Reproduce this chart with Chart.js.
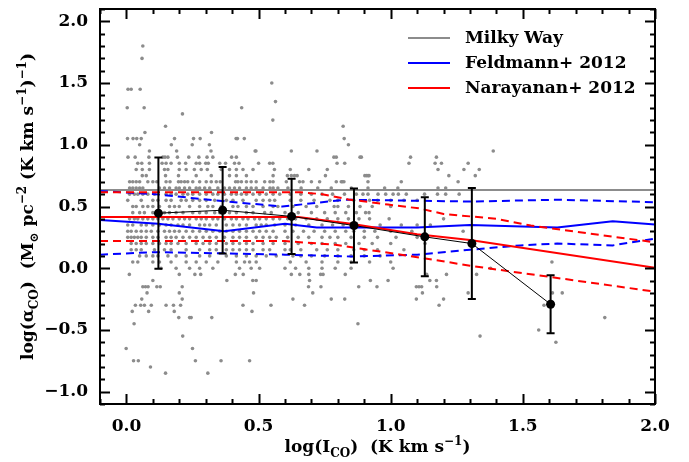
<!DOCTYPE html>
<html>
<head>
<meta charset="utf-8">
<script src="https://cdn.jsdelivr.net/npm/chart.js@4.4.1/dist/chart.umd.min.js"></script>
<style>
  html, body { margin: 0; padding: 0; background: #fff; }
  #wrap { width: 689px; height: 462px; position: relative; }
</style>
</head>
<body>
<div id="wrap"><canvas id="c"></canvas></div>
<script>
const FONT = '"DejaVu Serif", serif';

// axis ranges and labelled ticks
const xRange = [-0.1, 2.0];
const yRange = [-1.1, 2.1];
const xTickValues = [0.0, 0.5, 1.0, 1.5, 2.0];
const yTickValues = [-1.0, -0.5, 0.0, 0.5, 1.0, 1.5, 2.0];

// individual measurements: [log(alpha_CO), [log(I_CO) ...]]
const galaxyRows = [
  [1.80, [0.062]],
  [1.70, [0.059]],
  [1.50, [0.55]],
  [1.45, [0.006, 0.018, 0.052]],
  [1.35, [0.564]],
  [1.30, [0.003, 0.067, 0.436]],
  [1.25, [0.212]],
  [1.20, [0.554]],
  [1.15, [0.148, 0.82]],
  [1.10, [0.070, 0.322]],
  [1.05, [0.004, 0.025, 0.039, 0.056, 0.182, 0.254, 0.279, 0.415, 0.42, 0.446, 0.824]],
  [1.00, [0.05, 0.17, 0.249, 0.314, 0.84]],
  [0.95, [0.087, 0.19, 0.32, 0.487, 0.49, 0.624, 0.721, 1.388]],
  [0.90, [0.006, 0.033, 0.085, 0.138, 0.146, 0.157, 0.193, 0.236, 0.274, 0.305, 0.327, 0.398, 0.416, 0.785, 0.794, 0.884, 0.889, 1.075, 1.173]],
  [0.85, [0.043, 0.058, 0.087, 0.135, 0.15, 0.169, 0.2, 0.224, 0.264, 0.277, 0.3, 0.31, 0.353, 0.375, 0.409, 0.426, 0.5, 0.542, 0.554, 0.797, 0.826, 1.069, 1.168, 1.192, 1.293]],
  [0.80, [0.037, 0.06, 0.087, 0.144, 0.157, 0.2, 0.226, 0.257, 0.283, 0.306, 0.359, 0.39, 0.416, 0.441, 0.479, 0.56, 0.62, 0.69, 0.76, 1.179, 1.277, 1.335]],
  [0.75, [0.06, 0.075, 0.148, 0.197, 0.264, 0.321, 0.39, 0.416, 0.454, 0.555, 0.609, 0.624, 0.636, 0.646, 0.753, 0.902, 0.908, 0.914, 0.918, 1.22, 1.32]],
  [0.70, [0.012, 0.024, 0.037, 0.05, 0.081, 0.1, 0.115, 0.15, 0.165, 0.197, 0.207, 0.22, 0.232, 0.251, 0.277, 0.302, 0.321, 0.34, 0.355, 0.413, 0.422, 0.435, 0.454, 0.472, 0.491, 0.523, 0.543, 0.555, 0.605, 0.655, 0.668, 0.70, 0.731, 0.794, 0.813, 0.817, 0.823, 0.914, 1.04, 1.255]],
  [0.65, [0.012, 0.024, 0.037, 0.05, 0.062, 0.125, 0.144, 0.163, 0.188, 0.2, 0.22, 0.239, 0.264, 0.277, 0.296, 0.315, 0.346, 0.371, 0.39, 0.409, 0.428, 0.454, 0.472, 0.491, 0.517, 0.543, 0.555, 0.573, 0.611, 0.661, 0.724, 0.775, 0.851, 0.914, 0.977, 1.027, 1.179, 1.208]],
  [0.60, [0.012, 0.03, 0.043, 0.062, 0.081, 0.106, 0.15, 0.169, 0.188, 0.214, 0.232, 0.251, 0.277, 0.302, 0.327, 0.346, 0.371, 0.397, 0.416, 0.435, 0.454, 0.479, 0.504, 0.529, 0.555, 0.58, 0.62, 0.66, 0.7, 0.74, 0.78, 0.825, 0.87, 0.895, 0.914, 0.952, 0.981, 1.009, 1.029, 1.059, 1.128, 1.177, 1.208, 1.259]],
  [0.55, [0.005, 0.056, 0.1, 0.119, 0.15, 0.169, 0.207, 0.226, 0.251, 0.277, 0.302, 0.334, 0.378, 0.403, 0.441, 0.491, 0.517, 0.542, 0.561, 0.62, 0.66, 0.71, 0.77, 0.80, 0.86, 0.92, 0.95, 1.0, 1.05, 1.1]],
  [0.50, [0.024, 0.037, 0.062, 0.081, 0.1, 0.125, 0.163, 0.182, 0.2, 0.239, 0.277, 0.308, 0.327, 0.359, 0.403, 0.422, 0.454, 0.479, 0.517, 0.555, 0.573, 0.63, 0.68, 0.72, 0.786, 0.80, 0.84, 0.884, 0.93, 1.0]],
  [0.45, [0.024, 0.05, 0.068, 0.1, 0.144, 0.163, 0.188, 0.214, 0.251, 0.277, 0.302, 0.334, 0.353, 0.39, 0.416, 0.454, 0.479, 0.523, 0.548, 0.6, 0.65, 0.7, 0.75, 0.79, 0.83, 0.87, 0.905, 0.918]],
  [0.40, [0.012, 0.03, 0.043, 0.062, 0.081, 0.1, 0.119, 0.138, 0.157, 0.176, 0.2, 0.22, 0.239, 0.264, 0.283, 0.302, 0.327, 0.346, 0.371, 0.397, 0.416, 0.441, 0.46, 0.485, 0.504, 0.529, 0.555, 0.58, 0.61, 0.64, 0.68, 0.72, 0.76, 0.8, 0.84, 0.88, 0.92, 0.994, 1.20]],
  [0.35, [0.005, 0.024, 0.056, 0.075, 0.1, 0.125, 0.15, 0.169, 0.195, 0.214, 0.239, 0.277, 0.296, 0.315, 0.34, 0.378, 0.403, 0.428, 0.454, 0.491, 0.51, 0.529, 0.561, 0.6, 0.64, 0.69, 0.74, 0.78, 0.82, 0.87, 0.96, 1.04, 1.1, 1.15]],
  [0.30, [0.005, 0.018, 0.037, 0.056, 0.075, 0.094, 0.119, 0.144, 0.163, 0.182, 0.2, 0.226, 0.251, 0.277, 0.302, 0.327, 0.353, 0.378, 0.403, 0.428, 0.454, 0.479, 0.504, 0.529, 0.555, 0.6, 0.63, 0.67, 0.71, 0.75, 0.79, 0.83, 0.86, 0.9, 0.94, 1.0, 1.08, 1.274]],
  [0.25, [0.005, 0.018, 0.03, 0.043, 0.056, 0.075, 0.1, 0.119, 0.15, 0.169, 0.188, 0.214, 0.239, 0.264, 0.29, 0.315, 0.34, 0.371, 0.403, 0.428, 0.454, 0.491, 0.517, 0.542, 0.567, 0.61, 0.65, 0.69, 0.74, 0.77, 0.8, 0.85, 0.9, 0.95, 1.02, 1.1]],
  [0.20, [0.018, 0.037, 0.056, 0.075, 0.1, 0.125, 0.15, 0.169, 0.195, 0.226, 0.264, 0.29, 0.315, 0.34, 0.378, 0.403, 0.428, 0.454, 0.479, 0.517, 0.555, 0.6, 0.65, 0.7, 0.74, 0.79, 0.83, 0.88, 0.93, 1.0, 1.13]],
  [0.15, [0.018, 0.037, 0.056, 0.106, 0.144, 0.169, 0.226, 0.277, 0.315, 0.34, 0.378, 0.403, 0.428, 0.454, 0.479, 0.517, 0.542, 0.6, 0.62, 0.66, 0.72, 0.76, 0.8, 0.86, 0.9, 0.95, 1.05]],
  [0.10, [0.05, 0.075, 0.1, 0.119, 0.157, 0.188, 0.226, 0.277, 0.315, 0.378, 0.416, 0.454, 0.491, 0.529, 0.567, 0.63, 0.66, 0.7, 0.75, 0.8, 0.85, 0.9, 0.96]],
  [0.05, [0.024, 0.043, 0.1, 0.125, 0.169, 0.226, 0.264, 0.302, 0.346, 0.416, 0.447, 0.466, 0.491, 0.62, 0.68, 0.74, 0.8, 0.85, 0.92, 1.0, 1.61]],
  [0.00, [0.131, 0.188, 0.239, 0.277, 0.327, 0.428, 0.472, 0.504, 0.6, 0.64, 0.69, 0.74, 0.79, 0.85, 1.009, 1.378]],
  [-0.05, [0.011, 0.2, 0.259, 0.281, 0.412, 0.442, 0.624, 0.656, 0.69, 0.735, 0.744, 0.828, 1.136, 1.211, 1.325]],
  [-0.10, [0.10, 0.38, 0.478, 0.491, 0.693, 0.923, 0.99, 1.148, 1.173]],
  [-0.15, [0.062, 0.072, 0.082, 0.115, 0.128, 0.211, 0.689, 0.736, 0.879, 0.948, 1.097, 1.107, 1.117, 1.174]],
  [-0.20, [0.078, 0.2, 0.481, 0.705, 1.12, 1.293, 1.612, 1.649]],
  [-0.25, [0.058, 0.211, 0.63, 0.775, 0.826, 1.097, 1.2]],
  [-0.30, [0.034, 0.054, 0.068, 0.094, 0.15, 0.178, 0.205, 0.441, 0.547, 0.674, 1.183, 1.58]],
  [-0.35, [0.022, 0.084, 0.181, 0.475]],
  [-0.40, [0.198, 0.239, 0.245, 0.323, 1.81]],
  [-0.45, [0.029, 0.876]],
  [-0.50, [1.56]],
  [-0.55, [0.213, 1.338]],
  [-0.60, [1.625]],
  [-0.65, [-0.001, 0.25]],
  [-0.75, [0.027, 0.045, 0.261, 0.358, 0.466]],
  [-0.80, [0.091]],
  [-0.85, [0.148, 0.308]]
];

// Galactic conversion factor
const milkyWayX = [-0.1, 2.0];
const milkyWayY = [0.633, 0.633];

// Feldmann+ 2012 model: median and spread
const feldmannX   = [-0.1, 0.12, 0.37, 0.6, 0.72, 1.1, 1.3, 1.63, 1.84, 2.0];
const feldmannY   = [0.39, 0.36, 0.30, 0.36, 0.33, 0.33, 0.35, 0.33, 0.38, 0.355];
const feldmannHiX = [-0.1, 0.11, 0.33, 0.59, 0.83, 1.0, 1.3, 1.63, 2.0];
const feldmannHiY = [0.625, 0.60, 0.55, 0.50, 0.555, 0.55, 0.54, 0.555, 0.535];
const feldmannLoX = [-0.1, 0.1, 0.38, 0.6, 0.85, 1.1, 1.3, 1.49, 1.63, 1.84, 2.0];
const feldmannLoY = [0.11, 0.13, 0.12, 0.11, 0.095, 0.11, 0.15, 0.185, 0.2, 0.185, 0.24];

// Narayanan+ 2012 model: median and spread
const narayananX   = [-0.1, 0.65, 0.85, 1.1, 1.3, 2.0];
const narayananY   = [0.415, 0.415, 0.36, 0.275, 0.228, 0.004];
const narayananHiX = [-0.1, 0.66, 0.74, 0.84, 0.99, 1.11, 1.2, 1.3, 1.4, 1.53, 1.85, 2.0];
const narayananHiY = [0.615, 0.615, 0.60, 0.557, 0.516, 0.484, 0.44, 0.42, 0.40, 0.346, 0.253, 0.21];
const narayananLoX = [-0.1, 0.6, 0.79, 0.89, 1.06, 1.21, 1.3, 2.0];
const narayananLoY = [0.22, 0.22, 0.19, 0.157, 0.103, 0.052, 0.02, -0.19];

// binned means with scatter
const binX   = [0.121, 0.364, 0.625, 0.861, 1.129, 1.307, 1.605];
const binY   = [0.446, 0.47, 0.42, 0.346, 0.254, 0.20, -0.292];
const binErr = [0.45, 0.35, 0.305, 0.30, 0.32, 0.45, 0.235];

const legendLabels = ['Milky Way', 'Feldmann+ 2012', 'Narayanan+ 2012'];
const legendColors = ['#8c8c8c', '#0000ff', '#ff0000'];

const pts = (xs, ys) => xs.map((x, i) => ({ x: x, y: ys[i] }));
const galaxyPoints = [];
galaxyRows.forEach(([y, xs]) => xs.forEach(x => galaxyPoints.push({ x: x, y: y })));

function line(xs, ys, color, dashed, order) {
  return {
    data: pts(xs, ys), showLine: true, pointRadius: 0, borderColor: color,
    borderWidth: 2, borderDash: dashed ? [8, 5] : [], fill: false, tension: 0, order: order
  };
}

const fmt = v => (v < 0 ? '\u2212' : '') + Math.abs(v).toFixed(1);

function richText(ctx, parts, x, y) {
  const big = 'bold 17px ' + FONT, small = 'bold 12px ' + FONT;
  let total = 0;
  const widths = parts.map(([t, k]) => { ctx.font = k ? small : big; const w = ctx.measureText(t).width; total += w; return w; });
  let cx = x - total / 2;
  parts.forEach(([t, k], i) => {
    ctx.font = k ? small : big;
    const dy = k === 1 ? 5 : (k === 2 ? -7 : 0);
    ctx.fillText(t, cx, y + dy);
    cx += widths[i];
  });
}

const frame = {
  id: 'frame',
  afterDatasetsDraw(chart) {
    const { ctx, scales: { x, y } } = chart;
    ctx.save();
    // error bars on binned means
    ctx.strokeStyle = '#000';
    ctx.lineWidth = 2;
    binX.forEach((bx, i) => {
      const px = x.getPixelForValue(bx);
      const top = y.getPixelForValue(binY[i] + binErr[i]);
      const bot = y.getPixelForValue(binY[i] - binErr[i]);
      ctx.beginPath();
      ctx.moveTo(px, top); ctx.lineTo(px, bot);
      ctx.moveTo(px - 4, top); ctx.lineTo(px + 4, top);
      ctx.moveTo(px - 4, bot); ctx.lineTo(px + 4, bot);
      ctx.stroke();
    });
    ctx.restore();
  },
  afterDraw(chart) {
    const { ctx, chartArea: a, scales: { x, y } } = chart;
    ctx.save();
    ctx.strokeStyle = '#000';
    ctx.lineWidth = 2;
    ctx.strokeRect(a.left, a.top, a.right - a.left, a.bottom - a.top);
    ctx.beginPath();
    for (let i = -11; i <= 21; i++) {
      const py = Math.round(y.getPixelForValue(i / 10)) + 0.5;
      const len = i % 5 === 0 ? 10 : 5;
      ctx.moveTo(a.left, py); ctx.lineTo(a.left + len, py);
      ctx.moveTo(a.right, py); ctx.lineTo(a.right - len, py);
    }
    for (let i = -1; i <= 20; i++) {
      const px = Math.round(x.getPixelForValue(i / 10)) + 0.5;
      const len = i % 5 === 0 ? 10 : 5;
      ctx.moveTo(px, a.bottom); ctx.lineTo(px, a.bottom - len);
      ctx.moveTo(px, a.top); ctx.lineTo(px, a.top + len);
    }
    ctx.stroke();

    // legend
    ctx.textBaseline = 'middle';
    ctx.textAlign = 'left';
    ctx.font = 'bold 17px ' + FONT;
    legendLabels.forEach((lab, i) => {
      const ly = a.top + 29 + i * 25;
      ctx.strokeStyle = legendColors[i];
      ctx.lineWidth = 2;
      ctx.beginPath();
      ctx.moveTo(a.right - 247, ly); ctx.lineTo(a.right - 205, ly);
      ctx.stroke();
      ctx.fillStyle = '#000';
      ctx.fillText(lab, a.right - 190, ly + 1);
    });

    // axis titles
    ctx.fillStyle = '#000';
    ctx.textBaseline = 'alphabetic';
    ctx.textAlign = 'left';
    richText(ctx, [['log(I', 0], ['CO', 1], [')  (K km s', 0], ['\u22121', 2], [')', 0]],
      (a.left + a.right) / 2, 452);
    ctx.translate(33, (a.top + a.bottom) / 2);
    ctx.rotate(-Math.PI / 2);
    richText(ctx, [['log(\u03b1', 0], ['CO', 1], [')  (M', 0], ['\u2299', 1], [' pc', 0], ['\u22122', 2],
      [' (K km s', 0], ['\u22121', 2], [')', 0], ['\u22121', 2], [')', 0]], 0, 0);
    ctx.restore();
  }
};

new Chart(document.getElementById('c'), {
  type: 'scatter',
  data: {
    datasets: [
      { data: galaxyPoints, pointRadius: 1.8, pointBackgroundColor: '#8c8c8c', pointBorderWidth: 0, showLine: false, order: 10 },
      line(milkyWayX, milkyWayY, '#8c8c8c', false, 8),
      line(feldmannHiX, feldmannHiY, '#0000ff', true, 7),
      line(feldmannLoX, feldmannLoY, '#0000ff', true, 7),
      line(feldmannX, feldmannY, '#0000ff', false, 6),
      line(narayananHiX, narayananHiY, '#ff0000', true, 5),
      line(narayananLoX, narayananLoY, '#ff0000', true, 5),
      line(narayananX, narayananY, '#ff0000', false, 4),
      { data: pts(binX, binY), showLine: true, borderColor: '#000', borderWidth: 1, pointRadius: 4.5,
        pointBackgroundColor: '#000', pointBorderWidth: 0, order: 1 }
    ]
  },
  options: {
    responsive: true,
    maintainAspectRatio: false,
    animation: false,
    events: [],
    layout: { padding: { left: 0, top: 9, right: 34, bottom: 0 } },
    plugins: { legend: { display: false }, tooltip: { enabled: false } },
    scales: {
      x: {
        type: 'linear', min: xRange[0], max: xRange[1],
        grid: { display: false, drawTicks: false }, border: { display: false },
        ticks: { color: '#000', padding: 12, maxRotation: 0, font: { family: FONT, size: 17, weight: 'bold' }, callback: fmt },
        afterBuildTicks: s => { s.ticks = xTickValues.map(v => ({ value: v })); },
        afterFit: s => { s.height = 58; s.paddingLeft = 0; s.paddingRight = 0; }
      },
      y: {
        type: 'linear', min: yRange[0], max: yRange[1],
        grid: { display: false, drawTicks: false }, border: { display: false },
        ticks: { color: '#000', padding: 12, font: { family: FONT, size: 17, weight: 'bold' }, callback: fmt },
        afterBuildTicks: s => { s.ticks = yTickValues.map(v => ({ value: v })); },
        afterFit: s => { s.width = 100; s.paddingTop = 0; s.paddingBottom = 0; }
      }
    }
  },
  plugins: [frame]
});
</script>
</body>
</html>
